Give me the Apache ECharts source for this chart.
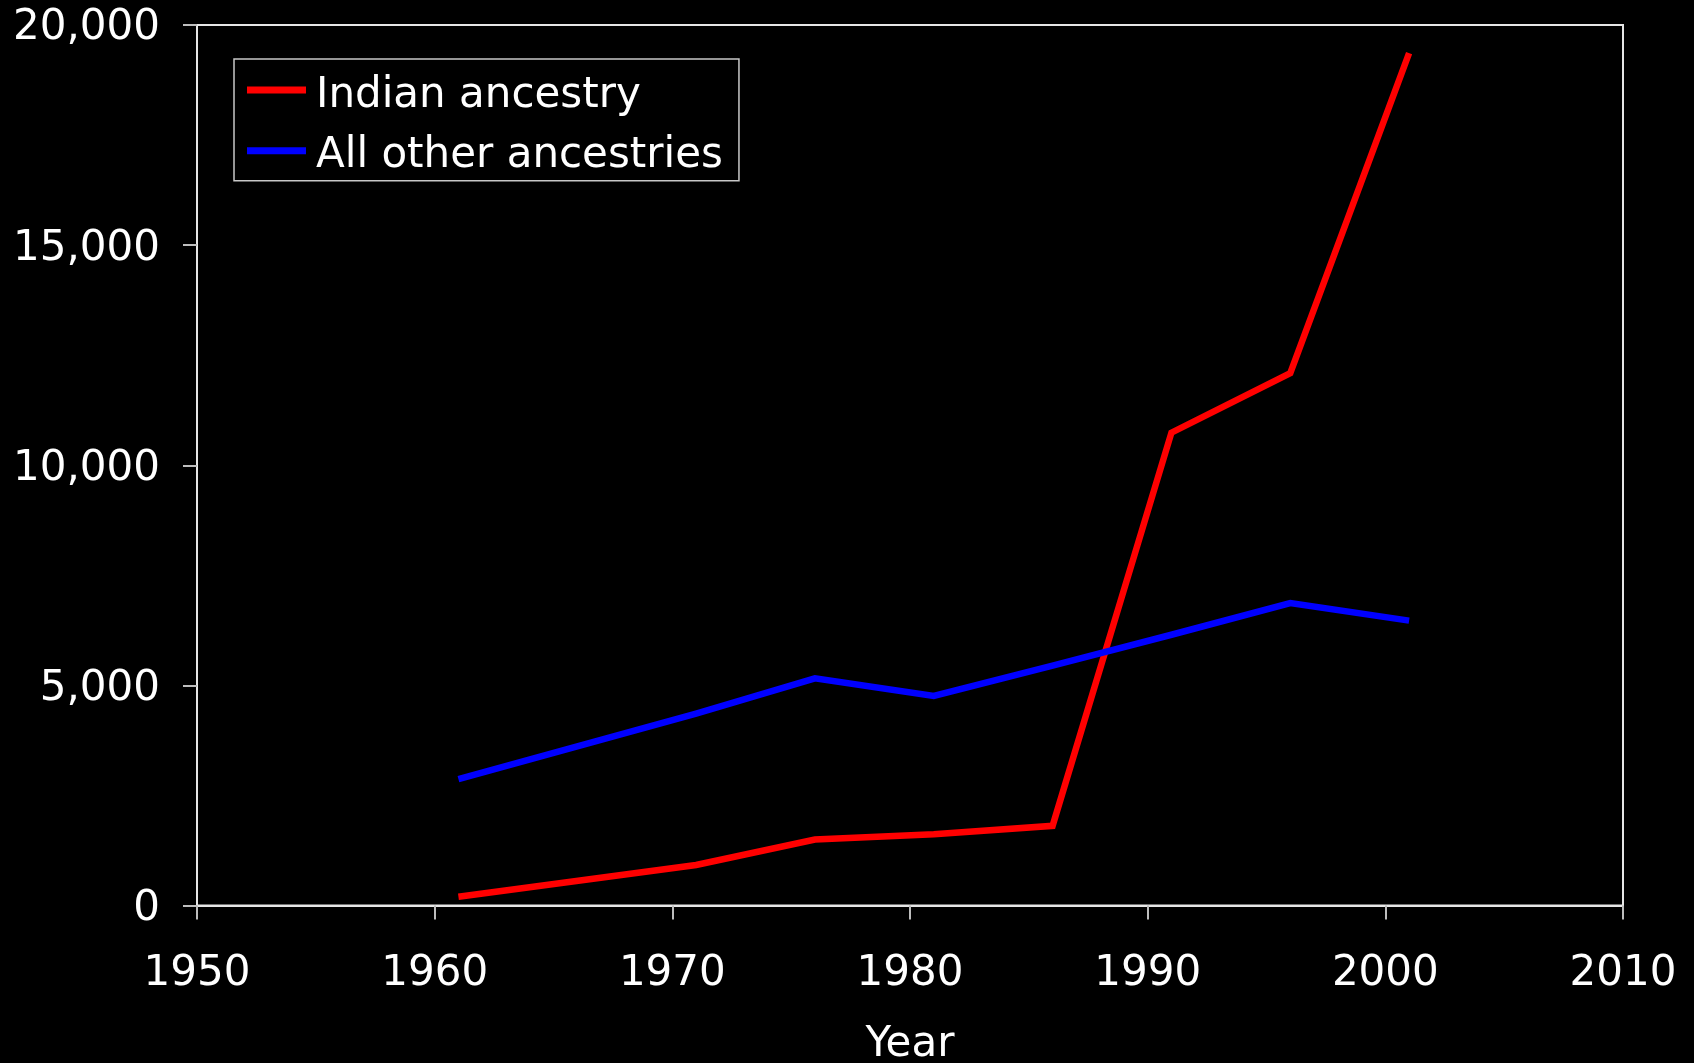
<!DOCTYPE html>
<html>
<head>
<meta charset="utf-8">
<script src="https://cdn.jsdelivr.net/npm/echarts@6/dist/echarts.min.js"></script>
<style>
html,body{margin:0;padding:0;background:#000;}
#chart{width:1694px;height:1063px;}
</style>
</head>
<body>
<div id="chart"></div>
<script>
const years = [1961, 1971, 1976, 1981, 1986, 1991, 1996, 2001];
const indianAncestry = [200, 920, 1500, 1620, 1810, 10740, 12090, 19360];
const otherAncestries = [2870, 4360, 5160, 4760, 5450, 6150, 6870, 6470];
const seriesNames = ['Indian ancestry', 'All other ancestries'];
const xTitle = 'Year';

const FONT = "'DejaVu Sans', Verdana, sans-serif";
const chart = echarts.init(document.getElementById('chart'), null, {renderer: 'canvas'});
const pairs = (xs, ys) => xs.map((x, i) => [x, ys[i]]);

chart.setOption({
  backgroundColor: '#000',
  animation: false,
  grid: {
    left: 197, top: 25, right: 71, bottom: 157.5,
    outerBoundsMode: 'none', containLabel: false,
    show: true, borderColor: '#e6e6e6', borderWidth: 2, backgroundColor: '#000'
  },
  legend: {
    orient: 'vertical',
    left: 234, top: 59,
    padding: [15.8, 16, 3.2, 13],
    itemGap: 18.7,
    itemWidth: 59, itemHeight: 18.6,
    icon: 'path://M0,0 L59,0 L59,7 L0,7 Z M0,18.6 L0.01,18.6',
    backgroundColor: '#000',
    borderColor: '#c8c8c8', borderWidth: 1.5,
    textStyle: {color: '#fff', fontSize: 42, fontFamily: FONT, padding: [0, 0, 0, 5]},
    data: seriesNames
  },
  xAxis: {
    type: 'value', min: 1950, max: 2010, interval: 10,
    name: xTitle, nameLocation: 'middle', nameGap: 119,
    nameTextStyle: {color: '#fff', fontSize: 42, fontFamily: FONT},
    axisLine: {show: true, lineStyle: {color: '#e6e6e6', width: 2}},
    axisTick: {show: true, inside: false, length: 14, lineStyle: {color: '#bdbdbd', width: 2}},
    axisLabel: {color: '#fff', fontSize: 42, fontFamily: FONT, margin: 47.5,
      formatter: v => String(v)},
    splitLine: {show: false}
  },
  yAxis: {
    type: 'value', min: 0, max: 20000, interval: 5000,
    axisLine: {show: true, lineStyle: {color: '#e6e6e6', width: 2}},
    axisTick: {show: true, inside: false, length: 14, lineStyle: {color: '#bdbdbd', width: 2}},
    axisLabel: {color: '#fff', fontSize: 42, fontFamily: FONT, margin: 37,
      verticalAlign: 'top', lineHeight: 7,
      formatter: v => v.toLocaleString('en-US')},
    splitLine: {show: false}
  },
  series: [
    {name: seriesNames[0], type: 'line', data: pairs(years, indianAncestry),
     showSymbol: false, symbol: 'none', color: '#ff0000',
     lineStyle: {color: '#ff0000', width: 6.5, cap: 'butt', join: 'miter'}},
    {name: seriesNames[1], type: 'line', data: pairs(years, otherAncestries),
     showSymbol: false, symbol: 'none', color: '#0000ff',
     lineStyle: {color: '#0000ff', width: 6.5, cap: 'butt', join: 'miter'}}
  ]
});
</script>
</body>
</html>
